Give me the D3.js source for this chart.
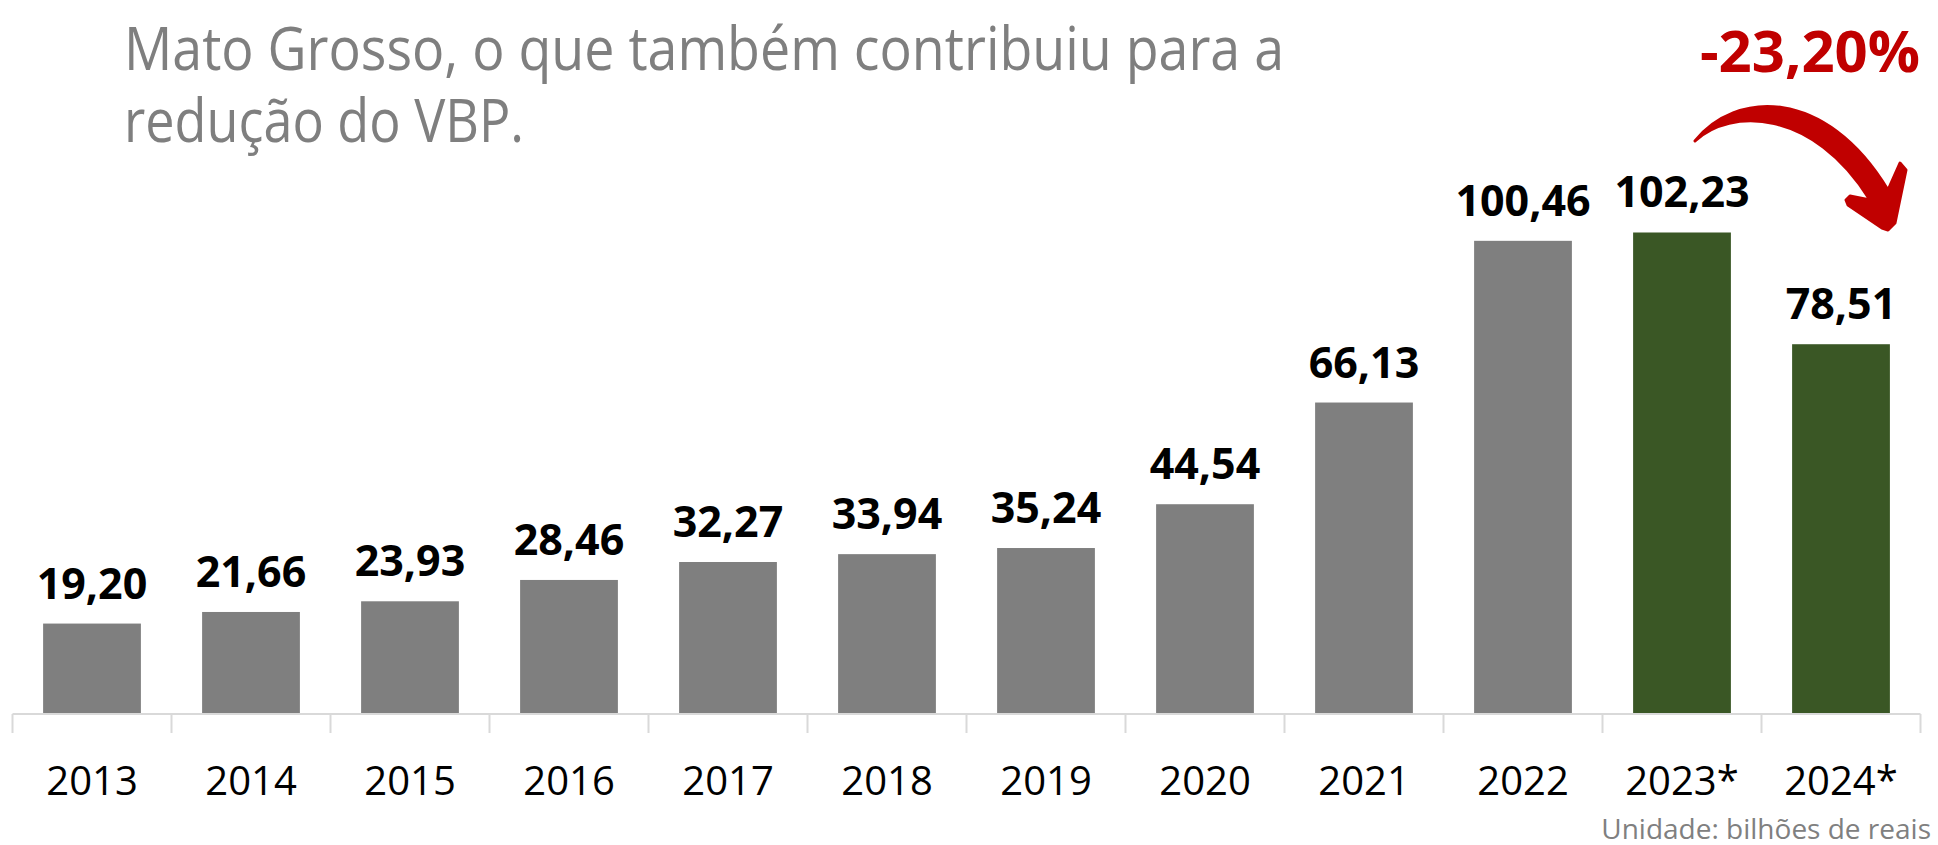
<!DOCTYPE html>
<html>
<head>
<meta charset="utf-8">
<script src="https://cdn.jsdelivr.net/npm/d3@7"></script>
<style>
    html, body { margin: 0; padding: 0; background: #fff; }
    svg { display: block; font-family: "Open Sans", sans-serif; }
</style>
</head>
<body>
<div id="chart"></div>
<script>
var width = 1938;
var height = 845;

// dados do gráfico (VBP, bilhões de reais)
var anos = ['2013', '2014', '2015', '2016', '2017', '2018', '2019', '2020', '2021', '2022', '2023*', '2024*'];
var valores = [19.20, 21.66, 23.93, 28.46, 32.27, 33.94, 35.24, 44.54, 66.13, 100.46, 102.23, 78.51];
var estimativa = [false, false, false, false, false, false, false, false, false, false, true, true];

var tituloLinhas = ['Mato Grosso, o que também contribuiu para a', 'redução do VBP.'];
var variacao = '-23,20%';
var unidade = 'Unidade: bilhões de reais';

var locale = d3.formatLocale({ decimal: ',', thousands: '.', grouping: [3], currency: ['R$', ''] });
var fmt = locale.format('.2f');

var svg = d3.select('#chart')
    .append('svg')
    .attr('width', width)
    .attr('height', height);

var baseY = 714;

var x = d3.scaleBand()
    .domain(anos)
    .range([12.5, 1920.5])
    .paddingInner(0)
    .paddingOuter(0);

var y = d3.scaleLinear()
    .domain([0, 120])
    .range([baseY, baseY - 120 * 4.71]);

var barW = x.bandwidth() * 0.615;

// texto do título (cinza)
svg.append('g')
    .selectAll('text')
    .data(tituloLinhas)
    .enter()
    .append('text')
    .attr('x', 124)
    .attr('y', (d, i) => 70 + i * 72)
    .attr('fill', '#7f7f7f')
    .attr('font-size', 60)
    .attr('textLength', (d, i) => i === 0 ? 1160 : 400)
    .attr('lengthAdjust', 'spacingAndGlyphs')
    .text(d => d);

// barras
svg.append('g')
    .selectAll('rect')
    .data(valores)
    .enter()
    .append('rect')
    .attr('x', (d, i) => x(anos[i]) + (x.bandwidth() - barW) / 2)
    .attr('y', d => y(d))
    .attr('width', barW)
    .attr('height', d => baseY - y(d))
    .attr('fill', (d, i) => estimativa[i] ? '#3a5725' : '#7f7f7f');

// rótulos de valor
svg.append('g')
    .selectAll('text')
    .data(valores)
    .enter()
    .append('text')
    .attr('x', (d, i) => x(anos[i]) + x.bandwidth() / 2)
    .attr('y', d => y(d) - 25)
    .attr('text-anchor', 'middle')
    .attr('font-size', 43)
    .attr('font-weight', 700)
    .attr('fill', '#000')
    .text(d => fmt(d));

// eixo x
var axis = svg.append('g')
    .attr('transform', 'translate(0,' + baseY + ')')
    .call(d3.axisBottom(x).tickSize(0).tickPadding(81));

axis.select('.domain').remove();
axis.selectAll('text')
    .attr('font-size', 40)
    .attr('font-family', '"Open Sans", sans-serif')
    .attr('fill', '#000')
    .attr('dy', 0);

var limites = anos.map(a => x(a)).concat([x(anos[anos.length - 1]) + x.bandwidth()]);

svg.append('line')
    .attr('x1', limites[0])
    .attr('x2', limites[limites.length - 1])
    .attr('y1', baseY)
    .attr('y2', baseY)
    .attr('stroke', '#d9d9d9')
    .attr('stroke-width', 2);

svg.append('g')
    .selectAll('line')
    .data(limites)
    .enter()
    .append('line')
    .attr('x1', d => d)
    .attr('x2', d => d)
    .attr('y1', baseY)
    .attr('y2', baseY + 19)
    .attr('stroke', '#d9d9d9')
    .attr('stroke-width', 2);

// unidade
svg.append('text')
    .attr('x', 1931)
    .attr('y', 839)
    .attr('text-anchor', 'end')
    .attr('font-size', 28)
    .attr('fill', '#808080')
    .text(unidade);

// variação e seta
var cx23 = x('2023*') + x.bandwidth() / 2;

svg.append('text')
    .attr('x', 1920)
    .attr('y', 72)
    .attr('text-anchor', 'end')
    .attr('font-size', 58)
    .attr('font-weight', 700)
    .attr('fill', '#c00000')
    .text(variacao);

var p = d3.path();
p.moveTo(0, 0);
p.bezierCurveTo(40, -50, 130, -55, 193, 49);
p.lineTo(205, 22);
p.lineTo(211, 29);
p.lineTo(200, 82);
p.lineTo(193, 89);
p.lineTo(187, 87);
p.lineTo(153, 64);
p.lineTo(151, 59);
p.lineTo(155, 55);
p.lineTo(175, 59);
p.bezierCurveTo(118, -33, 35, -33, 0, 0);
p.closePath();

svg.append('path')
    .attr('transform', 'translate(' + (cx23 + 13) + ',141)')
    .attr('d', p.toString())
    .attr('fill', '#c00000')
    .attr('stroke', '#c00000')
    .attr('stroke-width', 3)
    .attr('stroke-linejoin', 'round');
</script>
</body>
</html>
